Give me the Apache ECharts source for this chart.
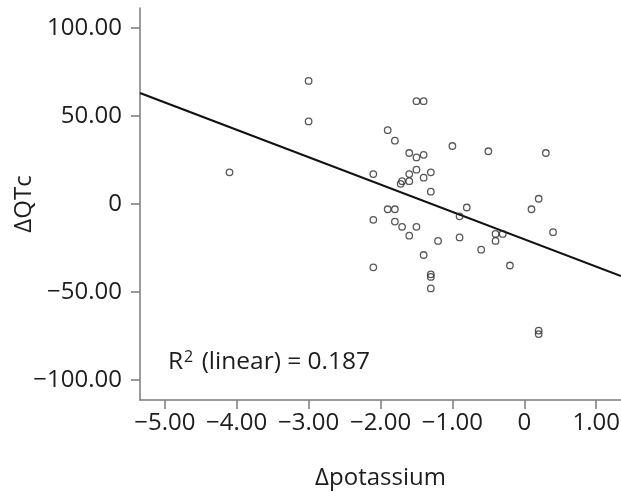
<!DOCTYPE html>
<html>
<head>
<meta charset="utf-8">
<script src="https://cdn.jsdelivr.net/npm/echarts@6/dist/echarts.min.js"></script>
<style>html,body{margin:0;padding:0;background:#fff;}#c{width:621px;height:492px;}</style>
</head>
<body>
<div id="c"></div>
<script>
// Data
const pointsX = [-3.0,-3.0,-4.1,-2.1,-2.1,-1.5,-1.4,-1.9,-1.8,-1.6,-1.5,-1.4,-1.0,-0.5,0.3,-1.5,-1.6,-1.3,-1.70,-1.72,-1.6,-1.4,-1.3,-1.9,-1.8,-1.8,-1.7,-1.5,-1.6,-1.2,-0.9,-0.8,-0.9,-0.4,-0.3,-0.4,-0.6,-0.2,0.1,0.2,0.4,-1.4,-2.1,-1.3,-1.3,-1.3,0.2,0.2];
const pointsY = [70,47,18,17,-9,58.5,58.5,42,36,29,26.5,28,33,30,29,19.5,17,18,13,11.5,13,15,7,-3,-3,-10,-13,-13,-18,-21,-19,-2,-7,-17,-17,-21,-26,-35,-3,3,-16,-29,-36,-40,-41.5,-48,-72,-74];
const fitX = [-5.345, 1.345];
const fitY = [63.1, -41.0];
const xTicks = [-5,-4,-3,-2,-1,0,1];
const yTicks = [-100,-50,0,50,100];
const xTickLabels = ['\u22125.00','\u22124.00','\u22123.00','\u22122.00','\u22121.00','0','1.00'];
const yTickLabels = ['\u2212100.00','\u221250.00','0','50.00','100.00'];
const r2Text = '0.187';

const font = '"Open Sans", sans-serif';
const txt = '#1e1c1d';
const axisColor = '#7a7a7a';

const chart = echarts.init(document.getElementById('c'), null, {renderer:'canvas'});
chart.setOption({
  animation:false,
  backgroundColor:'#fff',
  grid:{left:140, right:0, top:8, bottom:92, containLabel:false, outerBoundsMode:'none'},
  xAxis:{
    type:'value', min:-5.345, max:1.345,
    name:'\u0394potassium', nameLocation:'middle', nameGap:66, nameMoveOverlap:false,
    nameTextStyle:{fontFamily:font, fontSize:24, color:txt},
    axisLine:{show:true, onZero:false, lineStyle:{color:axisColor, width:1.5}},
    axisTick:{show:true, length:9, customValues:xTicks, lineStyle:{color:axisColor, width:1.5}},
    axisLabel:{customValues:xTicks, margin:11, fontFamily:font, fontSize:24, color:txt,
      formatter:v=>xTickLabels[xTicks.findIndex(t=>Math.abs(t-v)<1e-6)] ?? ''},
    splitLine:{show:false}
  },
  yAxis:{
    type:'value', min:-111.5, max:111.5,
    name:'\u0394QTc', nameLocation:'middle', nameGap:104, nameRotate:90, nameMoveOverlap:false,
    nameTextStyle:{fontFamily:font, fontSize:24, color:txt},
    axisLine:{show:true, onZero:false, lineStyle:{color:axisColor, width:1.5}},
    axisTick:{show:true, length:9, customValues:yTicks, lineStyle:{color:axisColor, width:1.5}},
    axisLabel:{customValues:yTicks, margin:18, fontFamily:font, fontSize:24, color:txt,
      formatter:v=>yTickLabels[yTicks.findIndex(t=>Math.abs(t-v)<1e-6)] ?? ''},
    splitLine:{show:false}
  },
  series:[
    {
      type:'line', data:fitX.map((x,i)=>[x,fitY[i]]), symbol:'none',
      lineStyle:{color:'#111', width:2.2}, z:2
    },
    {
      type:'scatter', data:pointsX.map((x,i)=>[x,pointsY[i]]),
      symbol:'circle', symbolSize:6.5,
      itemStyle:{color:'rgba(255,255,255,0)', borderColor:'#2e2e2e', borderWidth:1.3}, z:3
    }
  ],
  graphic:[{
    type:'text', left:168, top:349,
    style:{
      text:'{r|R}{s|2}{r| (linear) = '+r2Text+'}',
      rich:{
        r:{fontFamily:font, fontSize:24.5, fill:txt, verticalAlign:'bottom'},
        s:{fontFamily:font, fontSize:16, fill:txt, verticalAlign:'top', padding:[0,2,10,1]}
      }
    }
  }]
});
</script>
</body>
</html>
